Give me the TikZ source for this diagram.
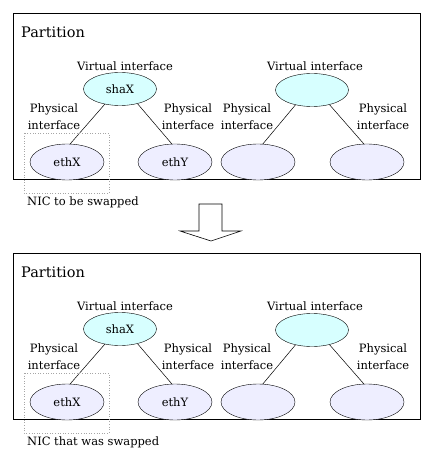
\documentclass[tikz,border=0pt]{standalone}
\usepackage{fontspec}
\setmainfont{DejaVu Serif}
\usepackage{xcolor}
\usetikzlibrary{shapes.geometric,positioning,calc}

\definecolor{virtfill}{RGB}{215,255,255}
\definecolor{physfill}{RGB}{238,238,255}

\tikzset{
  partbox/.style={draw=black, line width=0.8pt},
  virt/.style={ellipse, draw, fill=virtfill, minimum width=73pt, minimum height=33pt, inner sep=0pt, font=\fontsize{11.5}{13}\selectfont},
  phys/.style={ellipse, draw, fill=physfill, minimum width=74pt, minimum height=36pt, inner sep=0pt, font=\fontsize{11.5}{13}\selectfont},
  lbl/.style={font=\fontsize{11.5}{17}\selectfont, inner sep=0pt},
  plbl/.style={lbl, align=center},
  nicbox/.style={draw=black!35, dotted, line width=0.6pt},
  link/.style={draw, line width=0.5pt}
}

\begin{document}
\begin{tikzpicture}[x=1pt,y=-1pt]
		\useasboundingbox[fill=white] (0,0) rectangle (432,457);

		\foreach \oy/\nictext/\p in {0/{NIC to be swapped}/a, 240/{NIC that was swapped}/b} {
			% partition frame
			\draw[partbox] (13,13+\oy) rectangle (420,179+\oy);
			\node[anchor=west, inner sep=0pt, font=\fontsize{14.5}{16}\selectfont] (part\p) at (21,32+\oy) {Partition};

			% left group
			\node[virt] (sha\p) at (120,89+\oy) {shaX};
			\node[lbl] (vlbl\p) at (125,66+\oy) {Virtual interface};
			\node[phys] (ethx\p) at (67,162+\oy) {ethX};
			\node[phys] (ethy\p) at (175,162+\oy) {ethY};
			\node[plbl] (plx\p) at (54,117+\oy) {Physical\\interface};
			\node[plbl] (ply\p) at (188,117+\oy) {Physical\\interface};
			\draw[link] (sha\p.225) -- (ethx\p.80);
			\draw[link] (sha\p.320) -- (ethy\p.100);

			% right group
			\node[virt] (vr\p) at (312,90+\oy) {};
			\node[lbl] (vrlbl\p) at (315,66+\oy) {Virtual interface};
			\node[phys] (pl\p) at (258,162+\oy) {};
			\node[phys] (pr\p) at (367,162+\oy) {};
			\node[plbl] (pll\p) at (247,117+\oy) {Physical\\interface};
			\node[plbl] (prl\p) at (383,117+\oy) {Physical\\interface};
			\draw[link] (vr\p.222) -- (pl\p.75);
			\draw[link] (vr\p.320) -- (pr\p.100);

			% swapped NIC
			\draw[nicbox] (24,133+\oy) rectangle (109,193+\oy);
			\node[lbl, anchor=west] (nic\p) at (27,202+\oy) {\nictext};
		}

		% block arrow between the two states
		\draw[fill=white, line width=0.6pt] (199,204) -- (222,204) -- (222,231) -- (241,231)
			-- (211,241) -- (180,231) -- (199,231) -- cycle;
	\end{tikzpicture}
\end{document}
